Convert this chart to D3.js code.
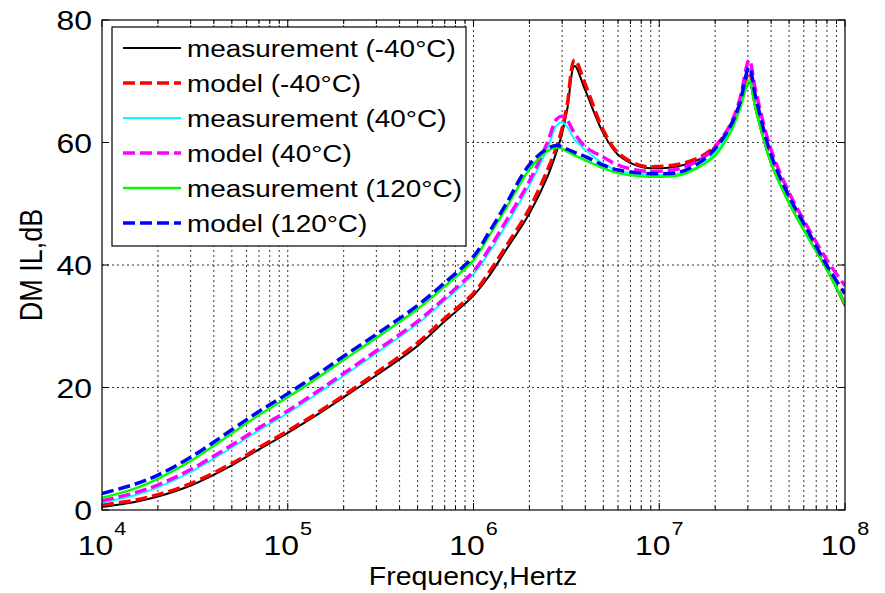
<!DOCTYPE html>
<html><head><meta charset="utf-8">
<script src="https://cdn.jsdelivr.net/npm/d3@7"></script>
<style>
body{margin:0;background:#fff;}
text{font-family:"Liberation Sans",Arial,Helvetica,sans-serif;fill:#000;}
</style></head>
<body><svg id="c" width="885" height="593"></svg>
<script>
// ---- data ----
const freqs = [1e4,1.5e4,2e4,3e4,5e4,7e4,1e5,1.5e5,2e5,3e5,5e5,7e5,1e6,1.2e6,1.5e6,2e6,2.5e6,2.8e6,3.0e6,3.2e6,3.5e6,4e6,5e6,6e6,8e6,1e7,1.3e7,1.7e7,2e7,2.4e7,2.7e7,3.05e7,3.3e7,4e7,5e7,6e7,8e7,1e8];
const measM40  = [0.5,1.3,2.2,4.0,7.3,9.9,12.6,15.9,18.4,22.0,26.8,30.8,35.0,38.0,42.5,48.4,54.4,58.5,61.5,65.5,72.5,68.5,61.5,58.0,56.0,55.8,56.2,57.5,59.2,62.3,65.5,69.8,65.5,56.6,50.1,45.7,39.2,33.3];
const modelM40 = [0.8,1.6,2.5,4.3,7.6,10.2,12.9,16.2,18.7,22.4,27.3,31.3,35.4,38.6,43.1,49.2,55.5,59.3,62.3,66.3,73.5,69.5,62.0,58.3,56.2,56.1,56.5,57.8,59.4,62.6,66.0,71.5,66.0,57.0,50.4,46.0,39.5,33.6];
const meas40   = [1.2,2.4,3.7,6.2,10.2,13.0,15.8,19.3,21.9,25.6,30.4,34.2,38.5,41.8,46.5,53.0,59.0,62.8,63.3,62.5,60.5,58.8,56.5,55.4,54.9,54.7,55.0,56.4,58.3,62.0,65.5,70.2,65.8,56.8,50.3,45.9,39.4,33.7];
const model40  = [1.5,2.8,4.1,6.6,10.6,13.4,16.2,19.7,22.3,26.0,30.8,34.6,39.0,42.4,47.2,53.7,60.0,63.8,64.3,63.6,61.5,59.3,57.6,56.3,55.4,55.3,55.8,57.4,59.3,62.8,66.8,73.5,68.5,58.8,51.8,47.3,40.8,36.6];
const meas120  = [2.0,3.5,5.1,8.0,12.5,15.5,18.4,21.9,24.5,28.1,32.8,36.5,40.8,44.5,49.3,55.6,58.6,59.2,59.0,58.5,57.9,57.1,55.8,55.0,54.5,54.4,54.7,56.3,57.9,61.5,65.2,70.0,65.5,56.6,50.1,45.7,39.2,33.5];
const model120 = [2.7,4.2,5.7,8.6,13.1,16.1,19.0,22.5,25.1,28.7,33.4,37.1,41.4,45.1,50.0,56.4,59.0,59.5,59.3,58.9,58.4,57.7,56.3,55.5,55.0,54.9,55.2,57.0,59.0,62.5,66.2,72.3,67.5,58.0,51.2,46.8,39.9,35.3];
const seriesNames = ["measurement (-40°C)","model (-40°C)","measurement (40°C)","model (40°C)","measurement (120°C)","model (120°C)"];
const seriesColors = ["#000000","#ff0000","#00ffff","#ff00ff","#00ff00","#0000ff"];
const seriesValues = [measM40, modelM40, meas40, model40, meas120, model120];
const xTickExps = [4,5,6,7,8];
const yTicks = [0,20,40,60,80];
const xLabel = "Frequency,Hertz";
const yLabel = "DM IL,dB";

// ---- layout ----
const SX = 1.14;
const L = 102, R = 845, T = 20, B = 510;
const svg = d3.select("#c");
const x = d3.scaleLog().domain([1e4,1e8]).range([L,R]);
const y = d3.scaleLinear().domain([0,80]).range([B,T]);

// grid
const minorVals = [];
for (let e = 4; e < 8; e++) for (let m = 1; m <= 9; m++) minorVals.push(m*Math.pow(10,e));
minorVals.push(1e8);
const grid = svg.append("g");
grid.selectAll("line.v").data(minorVals.filter(v=>v>1e4 && v<1e8)).join("line")
  .attr("x1",d=>x(d)).attr("x2",d=>x(d)).attr("y1",T).attr("y2",B)
  .attr("stroke","#000").attr("stroke-width",0.8).attr("stroke-dasharray","2,3");
grid.selectAll("line.h").data(yTicks.filter(v=>v>0&&v<80)).join("line")
  .attr("x1",L).attr("x2",R).attr("y1",d=>y(d)).attr("y2",d=>y(d))
  .attr("stroke","#000").attr("stroke-width",0.8).attr("stroke-dasharray","2,3");

// ticks (inward, bottom & top, left & right)
const tk = svg.append("g").attr("stroke","#000").attr("stroke-width",1);
minorVals.forEach(v=>{
  const major = Math.abs(Math.log10(v)-Math.round(Math.log10(v)))<1e-9;
  const len = major?7:4;
  tk.append("line").attr("x1",x(v)).attr("x2",x(v)).attr("y1",B).attr("y2",B-len);
  tk.append("line").attr("x1",x(v)).attr("x2",x(v)).attr("y1",T).attr("y2",T+len);
});
yTicks.forEach(v=>{
  tk.append("line").attr("x1",L).attr("x2",L+7).attr("y1",y(v)).attr("y2",y(v));
  tk.append("line").attr("x1",R).attr("x2",R-7).attr("y1",y(v)).attr("y2",y(v));
});

// curves
svg.append("clipPath").attr("id","pc").append("rect")
  .attr("x",L).attr("y",T).attr("width",R-L).attr("height",B-T);
const line = d3.line().x(d=>x(d[0])).y(d=>y(d[1])).curve(d3.curveCatmullRom.alpha(0.5));
const plot = svg.append("g").attr("clip-path","url(#pc)");
seriesValues.forEach((vals,i)=>{
  const dashed = i%2===1;
  plot.append("path").datum(freqs.map((f,j)=>[f,vals[j]]))
    .attr("d",line).attr("fill","none").attr("stroke",seriesColors[i])
    .attr("stroke-width",dashed?3.5:(i===4?2.5:2))
    .attr("stroke-dasharray",dashed?"12,5":null)
    .attr("stroke-linejoin","round");
});

// axes box
svg.append("rect").attr("x",L).attr("y",T).attr("width",R-L).attr("height",B-T)
  .attr("fill","none").attr("stroke","#000").attr("stroke-width",1.2);

function txt(xp,yp,s,size,anchor){
  return svg.append("text").attr("transform",`translate(${xp},${yp}) scale(${SX},1)`)
    .attr("text-anchor",anchor).style("font-size",size+"px").text(s);
}
// y tick labels
yTicks.forEach(v=>txt(92,y(v)+10,String(v),28,"end"));
// x tick labels: "10" with superscript exponent, centred as a whole on the tick
xTickExps.forEach(e=>{
  const xp = x(Math.pow(10,e));
  const t = svg.append("text").attr("transform",`translate(${xp},555) scale(${SX},1)`)
    .attr("text-anchor","middle").style("font-size","28px");
  t.append("tspan").text("10");
  t.append("tspan").attr("dx",1).attr("dy",-20).style("font-size","19px").text(String(e));
});
// axis labels
txt(473,585,xLabel,25,"middle");
svg.append("text").attr("transform",`translate(42,265) scale(${SX},1) rotate(-90)`)
  .attr("text-anchor","middle").style("font-size","27px").text(yLabel);

// legend
const lg = svg.append("g");
lg.append("rect").attr("x",112).attr("y",27).attr("width",354).attr("height",219)
  .attr("fill","#fff").attr("stroke","#000").attr("stroke-width",1.2);
seriesNames.forEach((n,i)=>{
  const yy = 48 + i*35;
  const dashed = i%2===1;
  lg.append("line").attr("x1",123).attr("x2",181).attr("y1",yy).attr("y2",yy)
    .attr("stroke",seriesColors[i]).attr("stroke-width",dashed?3.5:(i===4?2.5:2))
    .attr("stroke-dasharray",dashed?"12,5":null);
  lg.append("text").attr("transform",`translate(187,${yy+9}) scale(${SX},1)`)
    .style("font-size","24.5px").text(n);
});
</script></body></html>
